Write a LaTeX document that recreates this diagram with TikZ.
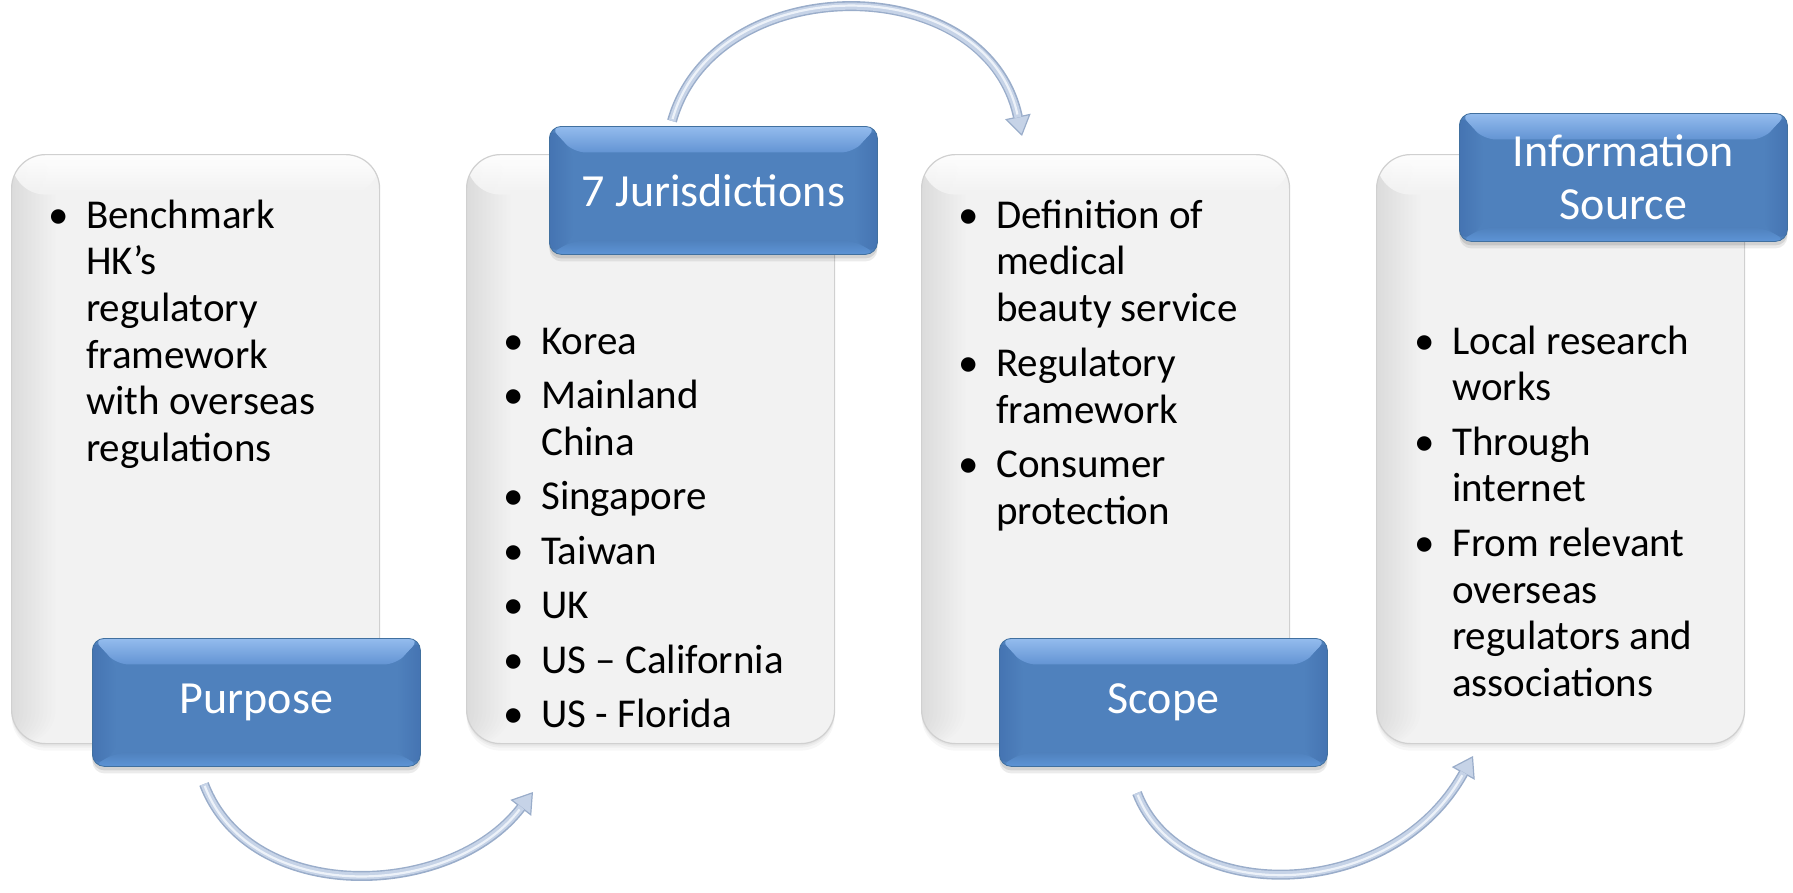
\documentclass[tikz,border=0pt]{standalone}
\usepackage{fontspec}
\setmainfont{Carlito}
\usetikzlibrary{calc,arrows.meta,shadows}

\definecolor{boxblue}{HTML}{4F81BD}
\definecolor{boxedge}{HTML}{41709F}
\definecolor{bevellight}{HTML}{94BCEE}
\definecolor{bevelmid}{HTML}{6394D3}
\definecolor{bevelside}{HTML}{4574B2}
\definecolor{bevelbottom}{HTML}{5E94D6}
\definecolor{cardfill}{HTML}{F2F2F2}
\definecolor{cardedge}{HTML}{D0D0D0}
\definecolor{arrowedge}{HTML}{9AADCA}
\definecolor{arrowbody}{HTML}{C6D3E7}
\definecolor{arrowshine}{HTML}{EDF2F9}

\newcommand\bodyfont{\fontsize{41}{47}\selectfont}
\newcommand\headfont{\fontsize{46}{53.7}\selectfont}

% one text line of a card, and a bullet in front of it
\newcommand\bodyline[4]{\node[bodytext] (#1) at (#2,#3) {#4};}
\newcommand\bulletat[3]{\node[bulletmark] (#1) at ($(#2,#3)+(-27,0)$) {\textbullet};}

\tikzset{
  card/.style={draw=cardedge, line width=1.2pt, fill=cardfill,
    rounded corners=34pt, minimum width=368pt, minimum height=589pt,
    anchor=north west, inner sep=0pt,
    general shadow={fill=black, opacity=0.04, shadow xshift=0pt, shadow yshift=-2pt},
    general shadow={fill=black, opacity=0.035, shadow xshift=0pt, shadow yshift=-4pt},
    general shadow={fill=black, opacity=0.03, shadow xshift=0pt, shadow yshift=-7pt},
    path picture={
      % soft darkening along the left edge, built from stacked strips
      \foreach \w in {4,8,...,44}
        \fill[black, opacity=0.0075]
          (path picture bounding box.south west) rectangle
          ($(path picture bounding box.north west)+(\w,0)$);
      \shade[top color=white, bottom color=cardfill, opacity=0.9]
        (path picture bounding box.north west) rectangle
        ($(path picture bounding box.north east)+(0,40)$);
    }},
  titlebox/.style={draw=boxedge, line width=0.8pt, fill=boxblue,
    rounded corners=12pt, minimum width=328pt, minimum height=128pt,
    anchor=north west, inner sep=0pt, text=white, font=\headfont,
    align=center,
    general shadow={fill=black, opacity=0.10, shadow xshift=0pt, shadow yshift=-4pt},
    general shadow={fill=black, opacity=0.08, shadow xshift=0pt, shadow yshift=-7pt},
    path picture={
      \coordinate (bbnw) at (path picture bounding box.north west);
      \coordinate (bbne) at (path picture bounding box.north east);
      \coordinate (bbsw) at (path picture bounding box.south west);
      \coordinate (bbse) at (path picture bounding box.south east);
      \shade[top color=bevellight, bottom color=bevelmid]
        (bbnw) -- (bbne) -- ($(bbne)+(-24,26)$) -- ($(bbnw)+(24,26)$) -- cycle;
      \shade[left color=bevelside, right color=boxblue]
        (bbnw) -- ($(bbnw)+(24,26)$) -- ($(bbsw)+(24,-14)$) -- (bbsw) -- cycle;
      \shade[left color=boxblue, right color=bevelside]
        (bbne) -- ($(bbne)+(-24,26)$) -- ($(bbse)+(-24,-14)$) -- (bbse) -- cycle;
      \shade[top color=boxblue, bottom color=bevelbottom]
        (bbsw) -- ($(bbsw)+(24,-14)$) -- ($(bbse)+(-24,-14)$) -- (bbse) -- cycle;
    }},
  bodytext/.style={anchor=base west, inner sep=0pt, font=\bodyfont, text=black},
  bulletmark/.style={anchor=base, inner sep=0pt, font=\bodyfont, text=black},
  arrowouter/.style={draw=arrowedge, line width=10pt,
    -{Triangle[width=26pt,length=20pt,line width=1.2pt,fill=arrowbody]}},
  arrowinner/.style={draw=arrowbody, line width=7pt, shorten >=19pt},
  arrowhighlight/.style={draw=arrowshine, line width=2.2pt, shorten >=22pt, shorten <=2pt},
}

\begin{document}
\begin{tikzpicture}[x=1pt,y=-1pt]
\useasboundingbox (0,0) rectangle (1793,892);

% the four cards
\node[card] (card1) at (11,154) {};
\node[card] (card2) at (466,154) {};
\node[card] (card3) at (921,154) {};
\node[card] (card4) at (1376,154) {};

% card 1: purpose
\bulletat{b11}{86}{228}
\bodyline{l11}{86}{228}{Benchmark}
\bodyline{l12}{86}{274.7}{HK’s}
\bodyline{l13}{86}{321.4}{regulatory}
\bodyline{l14}{86}{368.1}{framework}
\bodyline{l15}{86}{414.8}{with overseas}
\bodyline{l16}{86}{461.5}{regulations}

% card 2: jurisdictions
\bulletat{b21}{541}{354}
\bodyline{l21}{541}{354}{Korea}
\bulletat{b22}{541}{408.5}
\bodyline{l22}{541}{408.5}{Mainland}
\bodyline{l23}{541}{455.2}{China}
\bulletat{b24}{541}{509.7}
\bodyline{l24}{541}{509.7}{Singapore}
\bulletat{b25}{541}{564.2}
\bodyline{l25}{541}{564.2}{Taiwan}
\bulletat{b26}{541}{618.7}
\bodyline{l26}{541}{618.7}{UK}
\bulletat{b27}{541}{673.2}
\bodyline{l27}{541}{673.2}{US – California}
\bulletat{b28}{541}{727.7}
\bodyline{l28}{541}{727.7}{US - Florida}

% card 3: scope
\bulletat{b31}{996}{228}
\bodyline{l31}{996}{228}{Definition of}
\bodyline{l32}{996}{274.7}{medical}
\bodyline{l33}{996}{321.4}{beauty service}
\bulletat{b34}{996}{376.4}
\bodyline{l34}{996}{376.4}{Regulatory}
\bodyline{l35}{996}{423.1}{framework}
\bulletat{b36}{996}{477.6}
\bodyline{l36}{996}{477.6}{Consumer}
\bodyline{l37}{996}{524.3}{protection}

% card 4: information source
\bulletat{b41}{1452}{354}
\bodyline{l41}{1452}{354}{Local research}
\bodyline{l42}{1452}{400.7}{works}
\bulletat{b43}{1452}{455.2}
\bodyline{l43}{1452}{455.2}{Through}
\bodyline{l44}{1452}{501.9}{internet}
\bulletat{b45}{1452}{556.4}
\bodyline{l45}{1452}{556.4}{From relevant}
\bodyline{l46}{1452}{603.1}{overseas}
\bodyline{l47}{1452}{649.8}{regulators and}
\bodyline{l48}{1452}{696.5}{associations}

% title boxes
\node[titlebox] (purpose) at (92,638) {Purpose};
\node[titlebox] (jurisdictions) at (549,126) {7 Jurisdictions};
\node[titlebox] (scope) at (999,638) {Scope};
\node[titlebox] (source) at (1459,113) {Information\\Source};

% curved arrows between the steps
\coordinate (a1s) at (204,784);
\coordinate (a1e) at (533,792);
\coordinate (a2s) at (672,121);
\coordinate (a2e) at (1022,136);
\coordinate (a3s) at (1137,793);
\coordinate (a3e) at (1473,756);

\foreach \s/\e/\cs/\ce in {a1s/a1e/{46,121}/{-83,108},
                          a2s/a2e/{43,-152}/{-36,-168},
                          a3s/a3e/{43,112}/{-83,149}} {
  \draw[arrowouter] (\s) .. controls +(\cs) and +(\ce) .. (\e);
  \draw[arrowinner] (\s) .. controls +(\cs) and +(\ce) .. (\e);
  \draw[arrowhighlight] (\s) .. controls +(\cs) and +(\ce) .. (\e);
}
\end{tikzpicture}
\end{document}
